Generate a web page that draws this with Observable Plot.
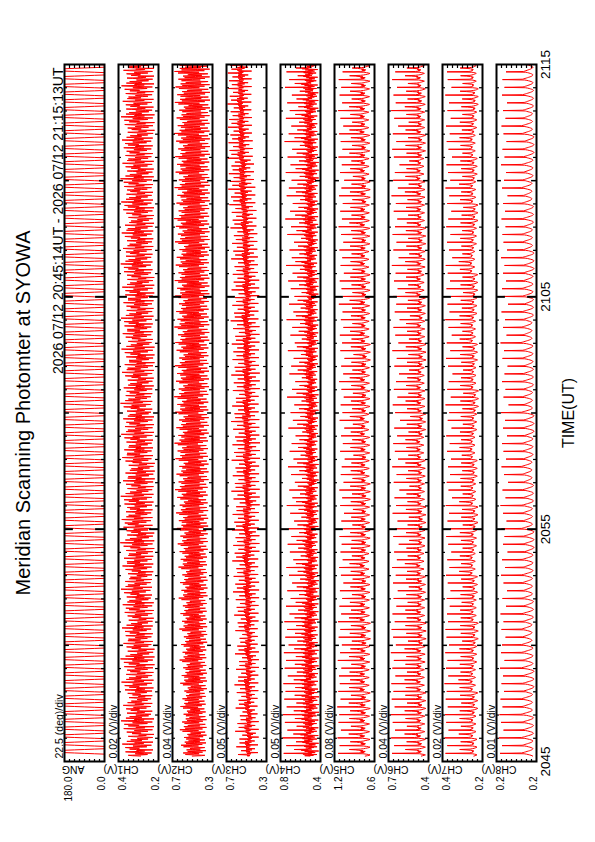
<!DOCTYPE html>
<html><head><meta charset="utf-8">
<script src="https://cdn.jsdelivr.net/npm/d3@7"></script>
<script src="https://cdn.jsdelivr.net/npm/@observablehq/plot@0.6"></script>
<style>
html,body{margin:0;padding:0;background:#fff;}
#page{position:relative;width:595px;height:842px;overflow:hidden;background:#fff;}
#land{position:absolute;left:0;top:0;width:842px;height:595px;transform-origin:0 0;transform:translate(0px,842px) rotate(-90deg);}
</style></head><body><div id="page"><div id="land"></div></div>
<script>
// ---------- DATA ----------
const title = "Meridian Scanning Photomter at SYOWA";
const subtitle = "2026 07/12 20:45:14UT - 2026 07/12 21:15:13UT";
const chNames = ["ANG","CH1(V)","CH2(V)","CH3(V)","CH4(V)","CH5(V)","CH6(V)","CH7(V)","CH8(V)"];
const chDiv = ["22.5 (deg)/div","0.02 (V)/div","0.04 (V)/div","0.05 (V)/div","0.05 (V)/div","0.08 (V)/div","0.04 (V)/div","0.02 (V)/div","0.01 (V)/div"];
const chLo = [0, 0.24, 0.34, 0.30, 0.40, 0.56, 0.38, 0.24, 0.16];
const chHi = [180, 0.40, 0.66, 0.70, 0.80, 1.20, 0.70, 0.40, 0.24];
const topLabels = ["180.0","0.4","0.7","0.7","0.8","1.2","0.7","0.4","0.2"];
const bottomLabels = ["0.0","0.2","0.3","0.3","0.4","0.6","0.4","0.2","0.2"];
const timeTickMinutes = [0, 10, 20, 30];
const timeTickLabels = ["2045","2055","2105","2115"];
const axisTitle = "TIME(UT)";

// scan timing (seconds after 20:45:00): 20 s cycle, fast sweeps with holds at 0 and 180 deg
const startSec = 14, endSec = 1813, cycleSec = 20;
const sampleSec = [0,1,2,3,4,5,6,7,8,9,10,11,12,13,14,15,16,17,18,19];
const scanAngle = [0,0,0,0,0,0,45,90,135,180,180,180,180,180,180,180,135,90,45,0];

// shape of one scan (fraction between floor and peak)
const ch1Shape = [0.45,0.75,0.90,0.40,0.20,0.55,0.65,0.30,0.05,0.40,0.80,1.00,0.50,0.30,0.60,0.35,0.00,0.60,0.85,0.50];
const ch2Shape = [0.60,0.20,0.05,0.50,0.90,0.75,0.30,0.55,1.00,0.65,0.15,0.40,0.80,0.35,0.00,0.45,0.85,0.60,0.25,0.70];
const ch3Shape = [0.45,0.55,0.40,0.60,1.00,0.50,0.35,0.55,0.45,0.00,0.50,0.60,0.40,0.55,0.85,0.45,0.30,0.50,0.60,0.15];
const ch4Shape = [0.25,0.40,0.15,0.30,0.05,0.45,0.20,1.00,0.35,0.10,0.30,0.15,0.40,0.00,0.25,0.50,0.30,0.70,0.20,0.30];
const ch5Shape = [0.15,0.08,0.03,0.00,0.05,0.12,0.22,1.00,0.35,0.25,0.18,0.28,0.15,0.30,0.22,0.35,0.45,0.65,0.30,0.20];
const ch6Shape = [0.12,0.08,0.04,0.00,0.03,0.10,0.18,1.00,0.30,0.20,0.15,0.22,0.12,0.18,0.25,0.20,0.40,0.60,0.28,0.18];
const ch7Shape = [0.10,0.06,0.03,0.00,0.02,0.08,0.15,1.00,0.25,0.18,0.14,0.12,0.16,0.10,0.13,0.20,0.35,0.55,0.22,0.15];
const ch8Shape = [0.01,0.03,0.06,0.10,0.15,0.20,0.27,1.00,0.35,0.30,0.26,0.22,0.18,0.14,0.10,0.07,0.04,0.02,0.01,0.00];

// peak value of each scan (V)
const ch1Peak = [0.372,0.385,0.361,0.379,0.390,0.366,0.381,0.358,0.374,0.388,
0.369,0.377,0.392,0.363,0.380,0.371,0.386,0.359,0.375,0.383,
0.367,0.390,0.373,0.362,0.384,0.378,0.369,0.393,0.365,0.380,
0.387,0.370,0.376,0.391,0.364,0.382,0.372,0.359,0.385,0.377,
0.368,0.389,0.374,0.381,0.366,0.392,0.371,0.379,0.363,0.386,
0.375,0.369,0.388,0.361,0.383,0.376,0.390,0.367,0.380,0.373,
0.385,0.364,0.378,0.391,0.370,0.382,0.366,0.387,0.374,0.360,
0.381,0.389,0.368,0.377,0.392,0.365,0.384,0.372,0.379,0.386,
0.363,0.375,0.390,0.369,0.383,0.371,0.388,0.366,0.380,0.374];
const ch2Peak = [0.575,0.592,0.568,0.601,0.583,0.571,0.596,0.580,0.565,0.598,
0.586,0.574,0.603,0.579,0.590,0.569,0.605,0.584,0.596,0.577,
0.610,0.588,0.599,0.581,0.612,0.594,0.603,0.618,0.597,0.625,
0.609,0.631,0.602,0.622,0.640,0.611,0.628,0.605,0.636,0.619,
0.644,0.613,0.629,0.607,0.638,0.621,0.646,0.610,0.632,0.624,
0.641,0.606,0.627,0.637,0.615,0.645,0.620,0.630,0.608,0.639,
0.623,0.642,0.612,0.634,0.626,0.604,0.640,0.617,0.633,0.647,
0.611,0.628,0.621,0.643,0.609,0.635,0.624,0.638,0.614,0.631,
0.645,0.618,0.627,0.606,0.641,0.622,0.636,0.613,0.644,0.629];
const ch3Peak = [0.585,0.602,0.571,0.613,0.590,0.566,0.608,0.579,0.597,0.620,
0.583,0.604,0.574,0.615,0.592,0.569,0.611,0.588,0.623,0.598,
0.607,0.635,0.612,0.628,0.601,0.642,0.618,0.632,0.609,0.645,
0.622,0.638,0.603,0.629,0.651,0.616,0.637,0.610,0.648,0.625,
0.640,0.614,0.633,0.655,0.620,0.643,0.606,0.636,0.627,0.652,
0.618,0.639,0.631,0.647,0.612,0.634,0.658,0.624,0.641,0.615,
0.649,0.628,0.637,0.619,0.653,0.632,0.644,0.626,0.660,0.638,
0.647,0.671,0.655,0.682,0.664,0.676,0.650,0.688,0.669,0.679,
0.661,0.685,0.672,0.658,0.690,0.667,0.681,0.674,0.686,0.663];
const ch4Peak = [0.768,0.742,0.779,0.731,0.756,0.775,0.738,0.762,0.749,0.771,
0.727,0.758,0.744,0.766,0.719,0.752,0.735,0.761,0.710,0.745,
0.698,0.732,0.684,0.715,0.741,0.672,0.706,0.728,0.691,0.719,
0.664,0.703,0.737,0.681,0.712,0.656,0.694,0.725,0.670,0.708,
0.688,0.649,0.721,0.676,0.699,0.662,0.734,0.685,0.652,0.711,
0.693,0.668,0.726,0.657,0.701,0.682,0.739,0.671,0.714,0.660,
0.697,0.723,0.679,0.744,0.687,0.710,0.665,0.731,0.695,0.752,
0.704,0.677,0.738,0.716,0.689,0.747,0.700,0.729,0.683,0.759,
0.718,0.692,0.746,0.707,0.733,0.686,0.755,0.713,0.740,0.702];
const ch5Peak = [1.142,1.118,1.151,1.097,1.135,1.124,1.156,1.103,1.139,1.115,
1.128,1.090,1.147,1.111,1.082,1.133,1.106,1.144,1.094,1.121,
1.075,1.113,1.058,1.097,1.126,1.069,1.104,1.085,1.119,1.062,
1.091,1.048,1.108,1.077,1.122,1.055,1.099,1.084,1.037,1.110,
1.066,1.095,1.043,1.117,1.072,1.101,1.052,1.088,1.125,1.061,
1.093,1.040,1.106,1.079,1.114,1.057,1.098,1.071,1.130,1.064,
1.087,1.116,1.050,1.102,1.076,1.121,1.059,1.095,1.134,1.081,
1.108,1.067,1.127,1.089,1.045,1.112,1.083,1.137,1.073,1.100,
1.126,1.060,1.105,1.141,1.078,1.118,1.092,1.132,1.070,1.111];
const ch6Peak = [0.672,0.655,0.679,0.648,0.666,0.683,0.651,0.674,0.660,0.677,
0.645,0.669,0.657,0.681,0.641,0.663,0.675,0.650,0.668,0.637,
0.659,0.626,0.664,0.642,0.671,0.633,0.655,0.618,0.661,0.644,
0.628,0.667,0.639,0.652,0.613,0.658,0.635,0.670,0.624,0.649,
0.662,0.631,0.654,0.608,0.647,0.666,0.629,0.657,0.640,0.616,
0.653,0.634,0.669,0.621,0.646,0.660,0.611,0.650,0.638,0.664,
0.627,0.656,0.643,0.673,0.619,0.661,0.636,0.667,0.648,0.630,
0.658,0.641,0.676,0.625,0.663,0.649,0.612,0.657,0.670,0.637,
0.665,0.623,0.654,0.678,0.642,0.660,0.632,0.671,0.646,0.658];
const ch7Peak = [0.388,0.381,0.391,0.376,0.385,0.390,0.379,0.387,0.383,0.392,
0.377,0.386,0.380,0.389,0.374,0.384,0.388,0.378,0.382,0.371,
0.383,0.368,0.379,0.386,0.372,0.381,0.365,0.377,0.385,0.369,
0.380,0.374,0.387,0.362,0.376,0.383,0.370,0.378,0.366,0.382,
0.371,0.385,0.364,0.379,0.373,0.388,0.367,0.381,0.375,0.360,
0.378,0.386,0.369,0.383,0.363,0.376,0.389,0.372,0.380,0.366,
0.384,0.370,0.379,0.387,0.361,0.374,0.382,0.368,0.385,0.377,
0.365,0.381,0.373,0.388,0.369,0.378,0.384,0.362,0.376,0.383,
0.371,0.386,0.367,0.380,0.374,0.389,0.364,0.379,0.382,0.370];
const ch8Peak = [0.233,0.229,0.235,0.226,0.231,0.234,0.228,0.232,0.225,0.230,
0.227,0.233,0.224,0.231,0.229,0.222,0.230,0.226,0.232,0.221,
0.228,0.219,0.226,0.231,0.223,0.229,0.218,0.227,0.224,0.230,
0.220,0.227,0.232,0.222,0.228,0.217,0.225,0.230,0.221,0.226,
0.229,0.219,0.227,0.223,0.231,0.216,0.226,0.222,0.229,0.224,
0.218,0.228,0.225,0.232,0.220,0.227,0.223,0.230,0.217,0.226,
0.229,0.221,0.227,0.224,0.231,0.219,0.226,0.228,0.222,0.230,
0.223,0.227,0.218,0.229,0.225,0.221,0.231,0.224,0.228,0.220,
0.226,0.230,0.222,0.227,0.219,0.229,0.224,0.228,0.221,0.225];

// floor (lowest value) in each minute (V)
const ch1Floor = [0.262,0.258,0.265,0.260,0.256,0.263,0.259,0.266,0.261,0.257,
0.264,0.260,0.255,0.262,0.258,0.265,0.259,0.256,0.263,0.260,
0.257,0.264,0.261,0.258,0.262,0.259,0.263,0.256,0.260,0.258];
const ch2Floor = [0.392,0.388,0.395,0.385,0.390,0.383,0.387,0.380,0.384,0.378,
0.375,0.379,0.372,0.376,0.370,0.374,0.368,0.373,0.366,0.371,
0.365,0.369,0.364,0.367,0.362,0.366,0.361,0.364,0.360,0.363];
const ch3Floor = [0.385,0.378,0.390,0.382,0.376,0.388,0.380,0.374,0.383,0.371,
0.377,0.368,0.374,0.365,0.372,0.379,0.367,0.375,0.370,0.381,
0.373,0.386,0.392,0.401,0.412,0.425,0.438,0.446,0.452,0.449];
const ch4Floor = [0.418,0.422,0.415,0.425,0.419,0.428,0.421,0.416,0.424,0.430,
0.422,0.427,0.419,0.431,0.425,0.420,0.433,0.426,0.423,0.429,
0.421,0.434,0.427,0.424,0.430,0.418,0.426,0.432,0.422,0.428];
const ch5Floor = [0.632,0.640,0.628,0.645,0.636,0.625,0.642,0.634,0.648,0.630,
0.639,0.627,0.644,0.637,0.651,0.633,0.641,0.626,0.646,0.638,
0.631,0.649,0.635,0.643,0.629,0.647,0.636,0.652,0.640,0.634];
const ch6Floor = [0.405,0.410,0.402,0.413,0.407,0.399,0.411,0.404,0.416,0.408,
0.401,0.412,0.406,0.418,0.403,0.409,0.414,0.400,0.410,0.405,
0.415,0.407,0.402,0.412,0.408,0.417,0.404,0.411,0.406,0.413];
const ch7Floor = [0.262,0.266,0.259,0.268,0.263,0.257,0.265,0.260,0.269,0.264,
0.258,0.267,0.261,0.270,0.263,0.256,0.266,0.260,0.268,0.262,
0.259,0.271,0.264,0.258,0.267,0.261,0.269,0.263,0.257,0.265];
const ch8Floor = [0.167,0.166,0.168,0.165,0.167,0.169,0.166,0.168,0.167,0.165,
0.168,0.166,0.169,0.167,0.165,0.168,0.166,0.167,0.169,0.166,
0.167,0.165,0.168,0.166,0.169,0.167,0.165,0.168,0.166,0.167];

// ---------- BUILD TABLE ----------
const shapes = [null,ch1Shape,ch2Shape,ch3Shape,ch4Shape,ch5Shape,ch6Shape,ch7Shape,ch8Shape];
const peaks = [null,ch1Peak,ch2Peak,ch3Peak,ch4Peak,ch5Peak,ch6Peak,ch7Peak,ch8Peak];
const floors = [null,ch1Floor,ch2Floor,ch3Floor,ch4Floor,ch5Floor,ch6Floor,ch7Floor,ch8Floor];
const rows = [];
chNames.forEach((ch, i) => {
  for (let k = 0; k < ch1Peak.length; k++) {
    for (let j = 0; j < sampleSec.length; j++) {
      const sec = startSec + k * cycleSec + sampleSec[j];
      if (sec > endSec) continue;
      const t = sec / 60;
      let v;
      if (i === 0) v = scanAngle[j];
      else {
        const f = floors[i][Math.min(floors[i].length - 1, Math.floor(t))];
        v = f + (peaks[i][k] - f) * shapes[i][j];
      }
      const n = Math.max(0, Math.min(1, (v - chLo[i]) / (chHi[i] - chLo[i])));
      rows.push({ch, t, n});
    }
  }
});

// ---------- STYLE ----------
const BH = 40.5;          // panel thickness (px)
const PXMIN = 697 / 30;   // px per minute
const minorMin = d3.range(1, 30).filter(m => m % 5 !== 0);
const midMin = [5, 15, 25];
const majorMin = [10, 20];
const divs = d3.range(1, 8).map(d => d / 8);
const edgeTicks = (ms, len, sw) => [
  Plot.ruleX(ms, {x: d => d, y1: 0, y2: len / BH, stroke: "#000", strokeWidth: sw}),
  Plot.ruleX(ms, {x: d => d, y1: 1 - len / BH, y2: 1, stroke: "#000", strokeWidth: sw})
];

const chart = Plot.plot({
  width: 842, height: 595,
  marginLeft: 80, marginRight: 65, marginTop: 60, marginBottom: 54.5,
  style: {fontFamily: "'Liberation Sans', Arial, Helvetica, sans-serif", background: "#fff", color: "#000"},
  x: {domain: [0, 30], axis: null},
  y: {domain: [0, 1], axis: null},
  fy: {domain: chNames, axis: null, paddingInner: 0.262, paddingOuter: 0},
  marks: [
    Plot.line(rows, {x: "t", y: "n", fy: "ch", stroke: "#ff0000", strokeWidth: 1, clip: true}),
    Plot.frame({stroke: "#000", strokeWidth: 2}),
    ...edgeTicks(minorMin, 3, 1.2),
    ...edgeTicks(midMin, 5, 1.5),
    ...edgeTicks(majorMin, 9, 2),
    Plot.ruleY(divs, {y: d => d, x1: 0, x2: 3 / PXMIN, stroke: "#000", strokeWidth: 1.2}),
    Plot.ruleY(divs, {y: d => d, x1: 30 - 3 / PXMIN, x2: 30, stroke: "#000", strokeWidth: 1.2}),
    Plot.text(chNames, {fy: d => d, frameAnchor: "left", text: d => d, rotate: -90, dx: -8, fontSize: 10.5}),
    Plot.text(chNames, {fy: d => d, frameAnchor: "top-left", text: (d, i) => topLabels[i], textAnchor: "end", lineAnchor: "top", dx: -15, fontSize: 10}),
    Plot.text(chNames, {fy: d => d, frameAnchor: "bottom-left", text: (d, i) => bottomLabels[i], textAnchor: "end", lineAnchor: "bottom", dx: -15, fontSize: 10}),
    Plot.text(chNames, {fy: d => d, frameAnchor: "top-left", text: (d, i) => chDiv[i], textAnchor: "start", lineAnchor: "bottom", dx: 3, dy: -2, fontSize: 10.5}),
    Plot.text([subtitle], {fy: () => "ANG", frameAnchor: "top-right", text: d => d, textAnchor: "end", lineAnchor: "bottom", dx: -3, dy: -2, fontSize: 14}),
    Plot.text([title], {fy: () => "ANG", frameAnchor: "top", text: d => d, lineAnchor: "middle", dy: -41, fontSize: 20}),
    Plot.text(timeTickMinutes, {fy: () => "CH8(V)", x: d => d, frameAnchor: "bottom", text: (d, i) => timeTickLabels[i], lineAnchor: "top", dy: 4, fontSize: 13.5}),
    Plot.text([axisTitle], {fy: () => "CH8(V)", frameAnchor: "bottom", text: d => d, lineAnchor: "middle", dy: 32, fontSize: 16})
  ]
});
document.getElementById("land").append(chart);
</script>
</body></html>
